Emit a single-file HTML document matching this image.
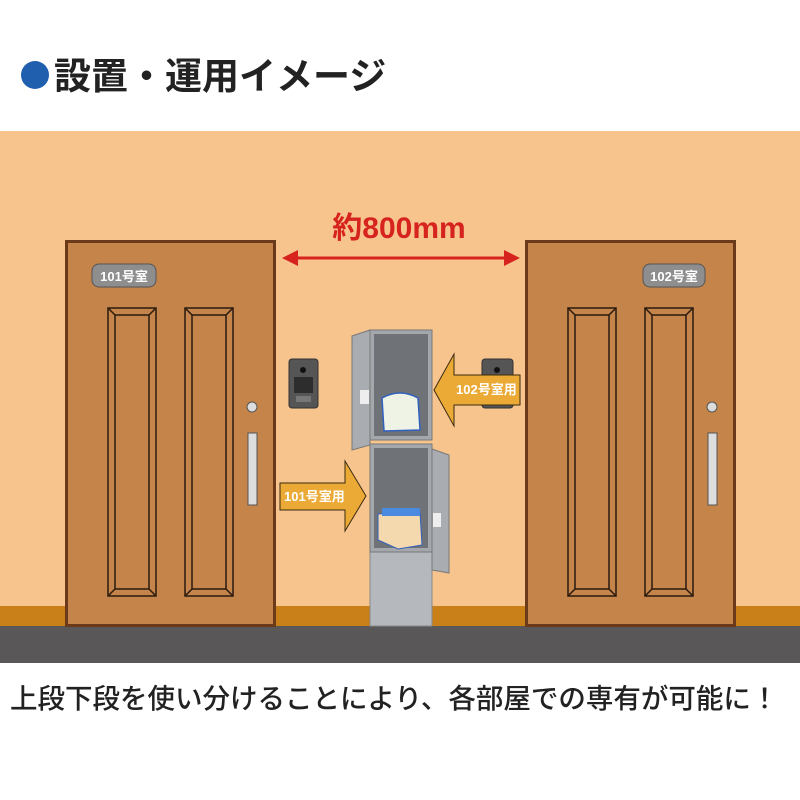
<!DOCTYPE html>
<html><head><meta charset="utf-8"><style>
html,body{margin:0;padding:0;background:#fff}
svg{display:block}
text{font-family:"Liberation Sans","Noto Sans CJK JP",sans-serif;font-weight:bold}
</style></head><body>
<svg width="800" height="800" viewBox="0 0 800 800" xmlns="http://www.w3.org/2000/svg">
<rect width="800" height="800" fill="#fff"/>
<circle cx="35" cy="75" r="14" fill="#1F5FAD"/>
<text x="54" y="89" font-size="37" fill="#222">設置・運用イメージ</text>
<rect x="0" y="131" width="800" height="476" fill="#F7C48E"/>
<rect x="0" y="606" width="800" height="20" fill="#C98018"/>
<rect x="0" y="626" width="800" height="37" fill="#595757"/>
<text x="10" y="708" font-size="27.5" fill="#222" style="font-weight:500">上段下段を使い分けることにより、各部屋での専有が可能に！</text>

<g id="d1">
<rect x="66.5" y="241.5" width="208" height="384" fill="#C4844A" stroke="#6B3A1A" stroke-width="3"/>
<g fill="none" stroke="#2a1a0e" stroke-width="1.5">
<rect x="108" y="308" width="48" height="288"/><rect x="115" y="315" width="34" height="274"/>
<line x1="108" y1="308" x2="115" y2="315"/><line x1="156" y1="308" x2="149" y2="315"/>
<line x1="108" y1="596" x2="115" y2="589"/><line x1="156" y1="596" x2="149" y2="589"/>
<rect x="185" y="308" width="48" height="288"/><rect x="192" y="315" width="34" height="274"/>
<line x1="185" y1="308" x2="192" y2="315"/><line x1="233" y1="308" x2="226" y2="315"/>
<line x1="185" y1="596" x2="192" y2="589"/><line x1="233" y1="596" x2="226" y2="589"/>
</g>
<circle cx="252" cy="407" r="5" fill="#ddd" stroke="#555"/>
<rect x="248" y="433" width="9" height="72" fill="#ddd" stroke="#555"/>
</g>
<use href="#d1" x="460"/>
<rect x="92" y="264" width="64" height="23" rx="7" fill="#8E8E8E" stroke="#555"/>
<text x="124" y="281" font-size="13" fill="#fff" text-anchor="middle">101号室</text>
<rect x="643" y="264" width="62" height="23" rx="7" fill="#8E8E8E" stroke="#555"/>
<text x="674" y="281" font-size="13" fill="#fff" text-anchor="middle">102号室</text>

<line x1="295" y1="258" x2="507" y2="258" stroke="#D7231E" stroke-width="3"/>
<polygon points="282,258 298,250 298,266" fill="#D7231E"/>
<polygon points="520,258 504,250 504,266" fill="#D7231E"/>
<text x="399" y="238" font-size="30" fill="#D7231E" text-anchor="middle">約800mm</text>

<rect x="289" y="359" width="29" height="49" rx="3" fill="#555" stroke="#333"/>
<circle cx="303" cy="370" r="3" fill="#111"/><rect x="294" y="377" width="19" height="16" fill="#2d2d2d"/><rect x="296" y="396" width="15" height="6" fill="#777"/>
<rect x="482" y="359" width="31" height="49" rx="3" fill="#555" stroke="#333"/>
<circle cx="497" cy="370" r="3" fill="#111"/>

<rect x="370" y="552" width="62" height="74" fill="#B5B9BE" stroke="#888"/>
<rect x="370" y="330" width="62" height="110" fill="#A4A8AD" stroke="#777"/>
<rect x="374" y="334" width="54" height="102" fill="#6F7378"/>
<polygon points="352,336 370,330 370,445 352,450" fill="#A9ADB2" stroke="#777"/>
<rect x="360" y="390" width="9" height="14" fill="#eee"/>
<path d="M382 398 Q400 388 418 398 L420 430 L384 431 Z" fill="#EEF3E6" stroke="#3060C0" stroke-width="1.5"/>
<rect x="370" y="444" width="62" height="108" fill="#A4A8AD" stroke="#777"/>
<rect x="374" y="448" width="54" height="100" fill="#6F7378"/>
<polygon points="432,449 449,455 449,573 432,570" fill="#A9ADB2" stroke="#777"/>
<rect x="433" y="513" width="8" height="14" fill="#eee"/>
<polygon points="378,514 420,512 422,545 398,549 378,540" fill="#F5D9AE" stroke="#3060C0"/>
<rect x="382" y="508" width="38" height="8" fill="#4A8BE0"/>

<polygon points="434,390 454,354 454,375 520,375 520,405 454,405 454,426" fill="#EBA935" stroke="#3a2a10" stroke-width="1"/>
<text x="456" y="394" font-size="13" fill="#fff">102号室用</text>
<polygon points="366,496 345,461 345,483 280,483 280,510 345,510 345,531" fill="#EBA935" stroke="#3a2a10" stroke-width="1"/>
<text x="284" y="501" font-size="13" fill="#fff">101号室用</text>
</svg>
</body></html>
